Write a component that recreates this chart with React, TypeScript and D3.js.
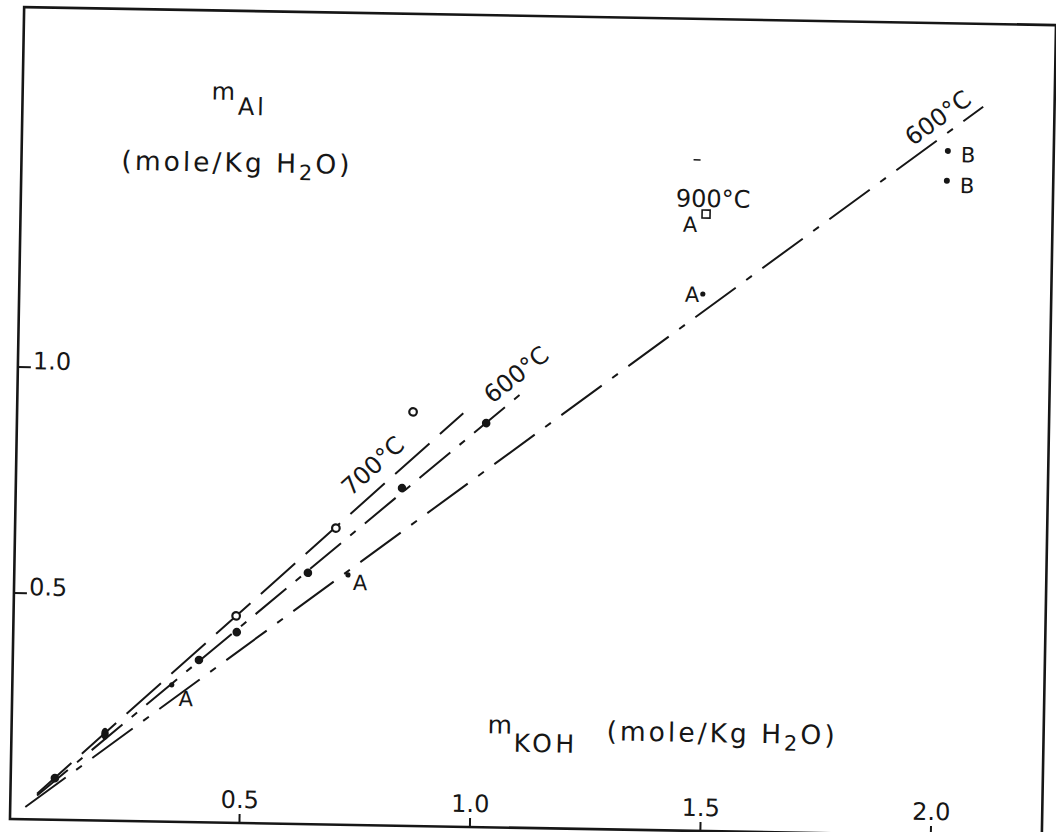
import React from "react";
import * as d3 from "d3";

// ---- axis ticks ----
const xTicks = [0.5, 1.0, 1.5, 2.0];
const xTickLabels = ["0.5", "1.0", "1.5", "2.0"];
const yTicks = [0.5, 1.0];
const yTickLabels = ["0.5", "1.0"];

// ---- measured points (m_KOH, m_Al) ----
// open circles (700 °C series)
const openX = [0.485, 0.698, 0.861];
const openY = [0.458, 0.656, 0.916];
// filled dots (600 °C series)
const filledX = [0.098, 0.406, 0.487, 0.639, 0.84, 1.02];
const filledY = [0.092, 0.359, 0.422, 0.556, 0.747, 0.894];
// doubled (overlapping) filled dot
const dblX = [0.205];
const dblY = [0.192];
// runs marked "A"
const aX = [0.348, 0.726, 1.485];
const aY = [0.303, 0.553, 1.188];
// 900 °C run (square, "A")
const sqX = [1.489];
const sqY = [1.365];
// runs marked "B"
const bX = [2.011, 2.01];
const bY = [1.514, 1.448];

// ---- fitted lines (end points) ----
const line700X = [0.06, 0.97];
const line700Y = [0.057, 0.915];
const line600X = [0.06, 1.092];
const line600Y = [0.053, 0.958];
const line600bX = [0.035, 2.086];
const line600bY = [0.027, 1.613];

// label offsets (pixels) for the A / B markers
const aLabelDx = [7, 5, -18];
const aLabelDy = [21, 15, 8];
const bLabelDx = [13, 13];
const bLabelDy = [11, 12];

export default function App() {
  const x = d3.scaleLinear().domain([0, 2]).range([16, 938]);
  const y = d3.scaleLinear().domain([0, 1]).range([828, 376]);
  const line = d3
    .line<[number, number]>()
    .x((d) => x(d[0]))
    .y((d) => y(d[1]));
  const pts = (xs: number[], ys: number[]) =>
    xs.map((v, i) => [v, ys[i]] as [number, number]);

  const font = "'DejaVu Sans', sans-serif";
  const ink = "#161616";
  const FL = 17,
    FR = 1049,
    FT = 16,
    FB = 828;

  return (
    <svg
      width={1056}
      height={832}
      style={{ position: "absolute", left: 0, top: 0, background: "#fff" }}
    >
      <rect x={0} y={0} width={1056} height={832} fill="#fff" />
      <g transform="rotate(1 531 421)" fontFamily={font} fill={ink}>
        {/* frame */}
        <rect
          x={FL}
          y={FT}
          width={FR - FL}
          height={FB - FT}
          fill="none"
          stroke={ink}
          strokeWidth={2.6}
        />
        {/* y ticks */}
        {yTicks.map((v, i) => (
          <g key={"yt" + i}>
            <line x1={FL} x2={FL + 13} y1={y(v)} y2={y(v)} stroke={ink} strokeWidth={2} />
            <text x={FL + 15} y={y(v) + 2} fontSize={24}>
              {yTickLabels[i]}
            </text>
          </g>
        ))}
        {/* x ticks */}
        {xTicks.map((v, i) => (
          <g key={"xt" + i}>
            <line
              x1={x(v)}
              x2={x(v)}
              y1={FB - 9}
              y2={i === xTicks.length - 1 ? FB + 14 : FB}
              stroke={ink}
              strokeWidth={2}
            />
            <text x={x(v)} y={FB - 15} fontSize={24} textAnchor="middle">
              {xTickLabels[i]}
            </text>
          </g>
        ))}

        {/* axis titles */}
        <text x={206} y={105} fontSize={24}>
          m
          <tspan dx={3} dy={15} fontSize={24} letterSpacing={3}>Al</tspan>
        </text>
        <text x={117} y={177} fontSize={26.5} letterSpacing={3}>
          (mole/Kg H<tspan dy={7} fontSize={21}>2</tspan>
          <tspan dy={-7}>O)</tspan>
        </text>
        <text x={493} y={734} fontSize={25}>
          m
          <tspan dx={2} dy={18} letterSpacing={3.5}>KOH</tspan>
        </text>
        <text x={612} y={739} fontSize={26.5} letterSpacing={3}>
          (mole/Kg H<tspan dy={7} fontSize={21}>2</tspan>
          <tspan dy={-7}>O)</tspan>
        </text>

        {/* lines */}
        <path
          d={line(pts(line700X, line700Y)) || ""}
          fill="none"
          stroke={ink}
          strokeWidth={2}
          strokeDasharray="46 14"
        />
        <path
          d={line(pts(line600X, line600Y)) || ""}
          fill="none"
          stroke={ink}
          strokeWidth={2}
          strokeDasharray="40 12 7 12"
        />
        <path
          d={line(pts(line600bX, line600bY)) || ""}
          fill="none"
          stroke={ink}
          strokeWidth={2}
          strokeDasharray="50 13 7 13"
        />

        {/* line labels */}
        <text transform="translate(352,500) rotate(-43)" fontSize={24}>
          700°C
        </text>
        <text transform="translate(492,405) rotate(-39.5)" fontSize={24}>
          600°C
        </text>
        <text transform="translate(908,140) rotate(-37.2)" fontSize={24}>
          600°C
        </text>
        <text x={672} y={204} fontSize={24}>
          900°C
        </text>
        <line x1={689} x2={696} y1={157} y2={157} stroke={ink} strokeWidth={1.5} />

        {/* points */}
        {pts(openX, openY).map((d, i) => (
          <circle key={"o" + i} cx={x(d[0])} cy={y(d[1])} r={3.8} fill="#fff" stroke={ink} strokeWidth={2.2} />
        ))}
        {pts(filledX, filledY).map((d, i) => (
          <circle key={"f" + i} cx={x(d[0])} cy={y(d[1])} r={4.3} fill={ink} />
        ))}
        {pts(dblX, dblY).map((d, i) => (
          <ellipse key={"d" + i} cx={x(d[0])} cy={y(d[1])} rx={3.8} ry={6} fill={ink} />
        ))}
        {pts(aX, aY).map((d, i) => (
          <g key={"a" + i}>
            <circle cx={x(d[0])} cy={y(d[1])} r={2.6} fill={ink} />
            <text x={x(d[0]) + aLabelDx[i]} y={y(d[1]) + aLabelDy[i]} fontSize={21}>
              A
            </text>
          </g>
        ))}
        {pts(sqX, sqY).map((d, i) => (
          <g key={"s" + i}>
            <rect x={x(d[0]) - 4} y={y(d[1]) - 4} width={8} height={8} fill="#fff" stroke={ink} strokeWidth={1.6} />
            <text x={x(d[0]) - 23} y={y(d[1]) + 18} fontSize={21}>
              A
            </text>
          </g>
        ))}
        {pts(bX, bY).map((d, i) => (
          <g key={"b" + i}>
            <circle cx={x(d[0])} cy={y(d[1])} r={3} fill={ink} />
            <text x={x(d[0]) + bLabelDx[i]} y={y(d[1]) + bLabelDy[i]} fontSize={21}>
              B
            </text>
          </g>
        ))}
      </g>
    </svg>
  );
}
